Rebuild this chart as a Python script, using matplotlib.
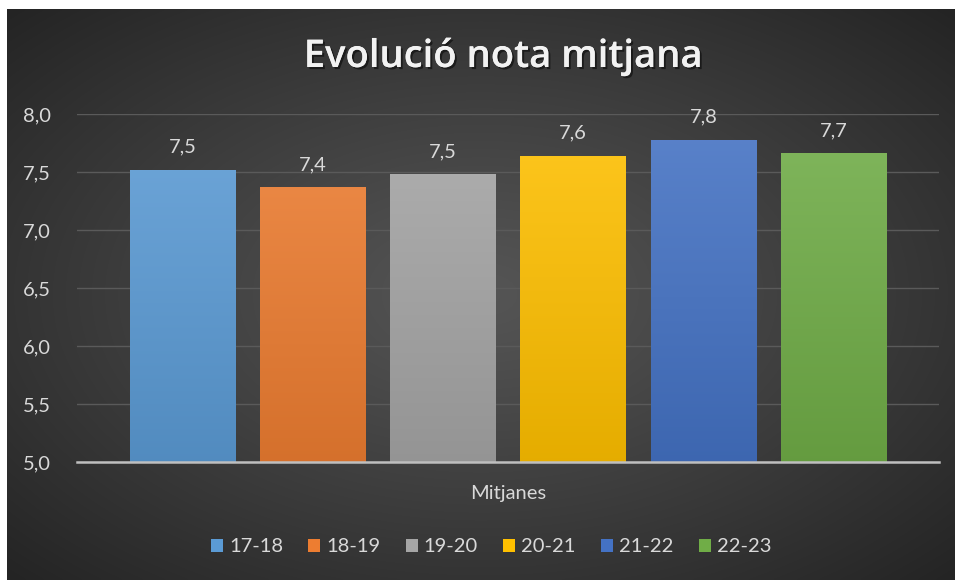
import numpy as np
import matplotlib
matplotlib.use("Agg")
import matplotlib.pyplot as plt
from matplotlib.patches import Rectangle
from matplotlib.colors import to_rgb
import matplotlib.patheffects as pe

plt.rcParams['font.family'] = ['Lato', 'DejaVu Sans']

# ---- data ----
series = ["17-18", "18-19", "19-20", "20-21", "21-22", "22-23"]
values = [7.52, 7.37, 7.48, 7.64, 7.78, 7.66]
labels = ["7,5", "7,4", "7,5", "7,6", "7,8", "7,7"]
yticks = [5.0, 5.5, 6.0, 6.5, 7.0, 7.5, 8.0]
ytick_labels = ["5,0", "5,5", "6,0", "6,5", "7,0", "7,5", "8,0"]
title = "Evolució nota mitjana"
xlabel = "Mitjanes"
colors = ["#5B9BD5", "#ED7D31", "#A5A5A5", "#FFC000", "#4472C4", "#70AD47"]

W, H = 956, 580
fig = plt.figure(figsize=(W / 100, H / 100), dpi=100)
fig.patch.set_facecolor("white")

# background radial gradient (chart area)
bx0, by0, bx1, by1 = 7, 9, 955, 580
bg_ax = fig.add_axes([bx0 / W, 1 - by1 / H, (bx1 - bx0) / W, (by1 - by0) / H])
bg_ax.set_axis_off()
gx = np.linspace(-1, 1, 400)
gy = np.linspace(-1, 1, 250)
XX, YY = np.meshgrid(gx, gy)
R = np.sqrt(XX ** 2 + YY ** 2) / np.sqrt(2)
R = np.clip(R, 0, 1)
c_center = np.array(to_rgb("#555555"))
c_edge = np.array(to_rgb("#242424"))
tg = R ** 1.1
img = c_center[None, None, :] * (1 - tg[..., None]) + c_edge[None, None, :] * tg[..., None]
bg_ax.imshow(img, aspect="auto", extent=[0, 1, 0, 1], interpolation="bilinear")
bg_ax.set_xlim(0, 1)
bg_ax.set_ylim(0, 1)

# main axes
ax_l, ax_r, ax_t, ax_b = 77, 939, 114, 462
ax = fig.add_axes([ax_l / W, 1 - ax_b / H, (ax_r - ax_l) / W, (ax_b - ax_t) / H])
ax.set_facecolor("none")
x = np.arange(len(series))
width = 0.81

bars = ax.bar(x, np.array(values) - 5.0, bottom=5.0, width=width, color=colors, zorder=3,
              edgecolor="none")
for b, c in zip(bars, colors):
    base = np.array(to_rgb(c))
    top = np.clip(base + (1 - base) * 0.12, 0, 1)
    bot = base * 0.9
    n = 100
    tt = np.linspace(0, 1, n)[:, None]
    grad = top[None, :] * (1 - tt) + bot[None, :] * tt
    grad = grad[:, None, :]
    x0 = b.get_x()
    im = ax.imshow(grad, aspect="auto", extent=[x0, x0 + b.get_width(), 5.0, 8.0],
                   origin="upper", zorder=3.5, interpolation="bilinear")
    im.set_clip_path(b)
    b.set_facecolor("none")
ax.set_xlim(-0.81, len(series) - 1 + 0.81)
ax.set_ylim(5.0, 8.0)

for xi, v, lab in zip(x, values, labels):
    ax.annotate(lab, (xi, v), xytext=(0, 10), textcoords="offset points",
                ha="center", va="bottom", color="#d9d9d9", fontsize=14.5, zorder=5)

ax.set_yticks(yticks)
ax.set_yticklabels(ytick_labels)
ax.set_xticks([])
ax.tick_params(axis="y", length=0, colors="#d9d9d9", labelsize=14.5, pad=19)
ax.grid(axis="y", color="#5a5a5a", linewidth=1.0, zorder=0)
for s in ["top", "right", "left"]:
    ax.spines[s].set_visible(False)
ax.spines["bottom"].set_color("#bfbfbf")
ax.spines["bottom"].set_linewidth(1.8)
ax.spines["bottom"].set_zorder(4)

fig.text(508 / W, 1 - 494 / H, xlabel, ha="center", va="center", color="#d9d9d9", fontsize=14.5)

t = fig.text(503 / W, 1 - 57 / H, title, ha="center", va="center", color="#f2f2f2",
             fontsize=27.5, fontweight="semibold", family=["Open Sans", "DejaVu Sans"])
t.set_path_effects([pe.withSimplePatchShadow(offset=(1.5, -1.5), shadow_rgbFace="black", alpha=0.5),
                    pe.Normal()])

handles = [Rectangle((0, 0), 1, 1, facecolor=c, edgecolor="none") for c in colors]
leg = fig.legend(handles, series, loc="center", bbox_to_anchor=(491 / W, 1 - 547 / H), ncol=6,
                 frameon=False, fontsize=14.5, handlelength=0.6, handleheight=0.6,
                 handletextpad=0.3, columnspacing=1.25, labelcolor="#d9d9d9")

fig.savefig("out.png", dpi=100, facecolor=fig.get_facecolor())
